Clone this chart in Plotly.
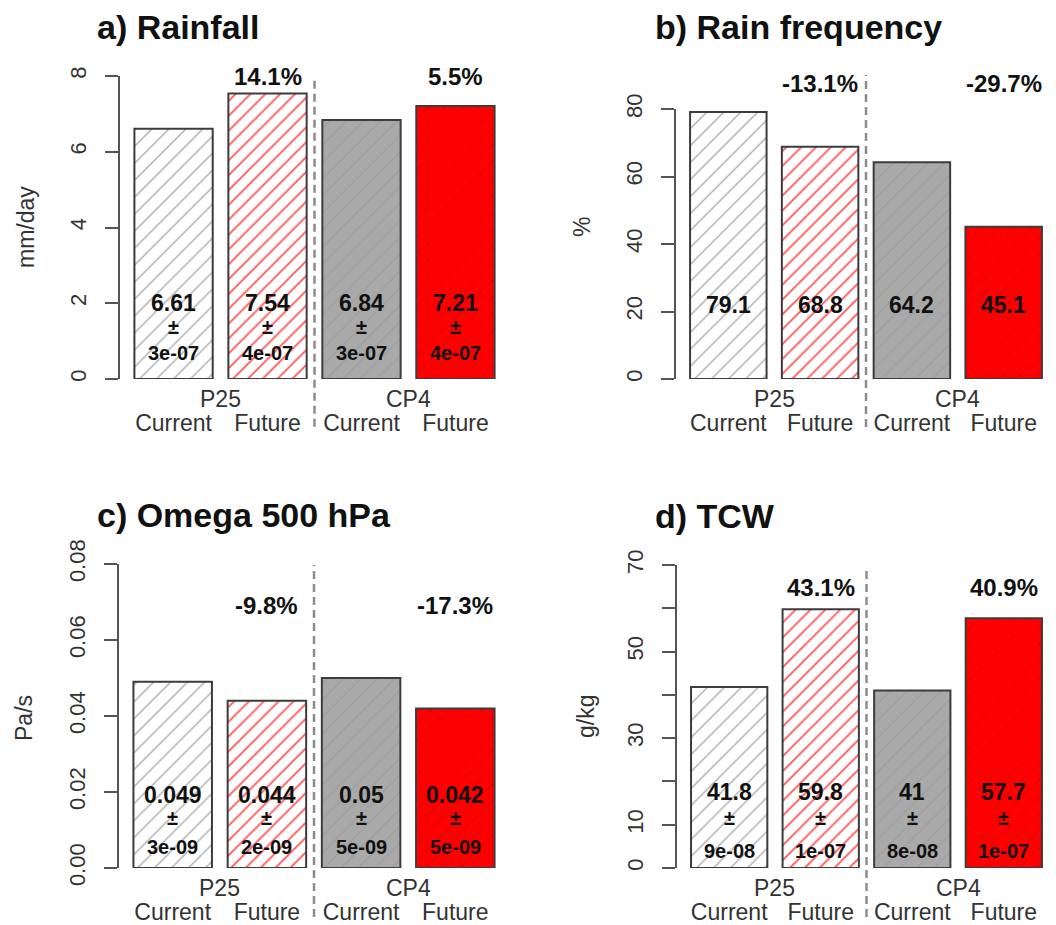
import plotly.graph_objects as go

# ---------------- data ----------------
categories = ["P25 Current", "P25 Future", "CP4 Current", "CP4 Future"]
periods = ["Current", "Future", "Current", "Future"]
models = ["P25", "CP4"]

rainfall = [6.61, 7.54, 6.84, 7.21]
rainfall_err = ["3e-07", "4e-07", "3e-07", "4e-07"]
rainfall_change = ["14.1%", "5.5%"]

rain_freq = [79.1, 68.8, 64.2, 45.1]
rain_freq_change = ["-13.1%", "-29.7%"]

omega = [0.049, 0.044, 0.05, 0.042]
omega_err = ["3e-09", "2e-09", "5e-09", "5e-09"]
omega_change = ["-9.8%", "-17.3%"]

tcw = [41.8, 59.8, 41.0, 57.7]
tcw_err = ["9e-08", "1e-07", "8e-08", "1e-07"]
tcw_change = ["43.1%", "40.9%"]

rain_tickvals = [0, 2, 4, 6, 8]
rain_ticktext = ["0", "2", "4", "6", "8"]
freq_tickvals = [0, 20, 40, 60, 80]
freq_ticktext = ["0", "20", "40", "60", "80"]
omega_tickvals = [0, 0.02, 0.04, 0.06, 0.08]
omega_ticktext = ["0.00", "0.02", "0.04", "0.06", "0.08"]
tcw_tickvals = [0, 10, 20, 30, 40, 50, 60, 70]
tcw_ticktext = ["0", "10", "", "30", "", "50", "", "70"]

# ---------------- styling ----------------
PAGE_OFF = 8                      # page body margin of the html page
W, H = 1056 - PAGE_OFF, 925 - PAGE_OFF
FONT = "Liberation Sans, Arial, Helvetica, sans-serif"
bar_bg = ["#ffffff", "#ffffff", "#a9a9a9", "#ff0000"]
bar_fg = ["#b0b0b0", "#ff5a5a", "#9c9c9c", "#e80000"]
bar_psize = [12, 10.5, 12, 12]
bar_solid = [0.12, 0.18, 0.1, 0.1]


def fx(px):
    return (px - PAGE_OFF) / W


def fy(py):
    return 1 - (py - PAGE_OFF) / H


panels = [
    dict(title="a) Rainfall", ytitle="mm/day", vals=rainfall, err=rainfall_err,
         change=rainfall_change, tv=rain_tickvals, tt=rain_ticktext, top=8,
         xd=(120, 509), yd=(379, 76), tx=95, ty=27, yt=(26, 227),
         shifts=(76, 52, 26), pct_y=0.997, dash=(-0.158, 0.987)),
    dict(title="b) Rain frequency", ytitle="%", vals=rain_freq, err=None,
         change=rain_freq_change, tv=freq_tickvals, tt=freq_ticktext, top=80,
         xd=(676, 1056), yd=(379, 109), tx=653, ty=27, yt=(582, 227),
         shifts=(74,), pct_y=1.093, dash=(-0.178, 1.126)),
    dict(title="c) Omega 500 hPa", ytitle="Pa/s", vals=omega, err=omega_err,
         change=omega_change, tv=omega_tickvals, tt=omega_ticktext, top=0.08,
         xd=(119, 509), yd=(868, 564), tx=95, ty=515, yt=(24, 718),
         shifts=(73, 50, 21), pct_y=0.865, dash=(-0.161, 0.997)),
    dict(title="d) TCW", ytitle="g/kg", vals=tcw, err=tcw_err,
         change=tcw_change, tv=tcw_tickvals, tt=tcw_ticktext, top=70,
         xd=(677, 1056), yd=(868, 565), tx=653, ty=516, yt=(586, 717),
         shifts=(76, 50, 17), pct_y=0.927, dash=(-0.162, 0.993)),
]

fig = go.Figure()
annotations = []
shapes = []
layout_axes = {}

for i, p in enumerate(panels, start=1):
    sfx = "" if i == 1 else str(i)
    xa, ya = "x" + sfx, "y" + sfx
    for j, c in enumerate(categories):
        fig.add_trace(go.Bar(
            x=[c], y=[p["vals"][j]], xaxis=xa, yaxis=ya, showlegend=False,
            marker=dict(
                color=bar_bg[j],
                line=dict(color="#3c3c3c", width=2),
                pattern=dict(shape="/", size=bar_psize[j], solidity=bar_solid[j],
                             fgcolor=bar_fg[j], bgcolor=bar_bg[j],
                             fillmode="replace"),
            ),
            hoverinfo="skip",
        ))
    layout_axes["xaxis" + sfx] = dict(
        domain=[fx(p["xd"][0]), min(1.0, fx(p["xd"][1]))], anchor=ya,
        type="category", categoryorder="array", categoryarray=categories,
        range=[-0.57, 3.57], tickvals=categories, ticktext=periods, ticks="",
        showline=False, showgrid=False, zeroline=False, ticklabelstandoff=28,
        automargin=False,
        tickfont=dict(family=FONT, size=23, color="#333333"),
    )
    layout_axes["yaxis" + sfx] = dict(
        domain=[fy(p["yd"][0]), fy(p["yd"][1])], anchor=xa, range=[0, p["top"]],
        tickvals=p["tv"], ticktext=p["tt"], tickangle=-90, ticks="outside",
        ticklen=13, tickwidth=2, tickcolor="#555555", showline=True,
        linecolor="#555555", linewidth=2, showgrid=False, zeroline=False,
        ticklabelstandoff=10, automargin=False,
        tickfont=dict(family=FONT, size=22, color="#333333"),
    )
    # panel title
    annotations.append(dict(
        text="<b>%s</b>" % p["title"], xref="paper", yref="paper",
        x=fx(p["tx"]), y=fy(p["ty"]), xanchor="left", yanchor="middle",
        showarrow=False, font=dict(family=FONT, size=34, color="#111111")))
    # y-axis title
    annotations.append(dict(
        text=p["ytitle"], xref="paper", yref="paper", x=fx(p["yt"][0]),
        y=fy(p["yt"][1]), textangle=-90, xanchor="center", yanchor="middle",
        showarrow=False, font=dict(family=FONT, size=23, color="#333333")))
    # model group labels
    for k, m in enumerate(models):
        annotations.append(dict(
            text=m, xref=xa, yref=ya + " domain", x=0.5 + 2 * k, y=0,
            yshift=-20, xanchor="center", yanchor="middle", showarrow=False,
            font=dict(family=FONT, size=23, color="#333333")))
    # value labels inside bars
    for j, c in enumerate(categories):
        annotations.append(dict(
            text="<b>%g</b>" % p["vals"][j], xref=xa, yref=ya, x=c, y=0,
            yshift=p["shifts"][0], xanchor="center", yanchor="middle",
            showarrow=False, font=dict(family=FONT, size=23, color="#111111")))
        if p["err"] is not None:
            annotations.append(dict(
                text="<b>±</b>", xref=xa, yref=ya, x=c, y=0,
                yshift=p["shifts"][1], xanchor="center", yanchor="middle",
                showarrow=False, font=dict(family=FONT, size=20, color="#111111")))
            annotations.append(dict(
                text="<b>%s</b>" % p["err"][j], xref=xa, yref=ya, x=c, y=0,
                yshift=p["shifts"][2], xanchor="center", yanchor="middle",
                showarrow=False, font=dict(family=FONT, size=20, color="#111111")))
    # percentage change labels above future bars
    for k, ch in enumerate(p["change"]):
        annotations.append(dict(
            text="<b>%s</b>" % ch, xref=xa, yref=ya + " domain",
            x=categories[1 + 2 * k], y=p["pct_y"], xanchor="center",
            yanchor="middle", showarrow=False,
            font=dict(family=FONT, size=24, color="#111111")))
    # dashed separator between model groups
    shapes.append(dict(
        type="line", xref=xa + " domain", yref=ya + " domain", x0=0.5, x1=0.5,
        y0=p["dash"][0], y1=p["dash"][1],
        line=dict(color="#8c8c8c", width=2.5, dash="8px,5px")))

fig.update_layout(
    template="none",
    width=W, height=H, margin=dict(l=0, r=0, t=0, b=0, pad=0),
    paper_bgcolor="white", plot_bgcolor="white", barmode="overlay",
    bargap=1 - 1 / 1.2, annotations=annotations, shapes=shapes,
    font=dict(family=FONT), **layout_axes,
)

fig.write_html("out.html")
